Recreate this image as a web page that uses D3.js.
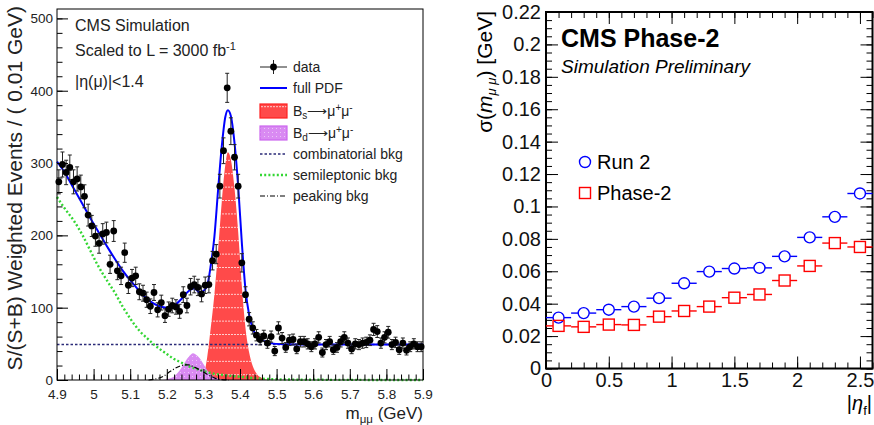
<!DOCTYPE html>
<html><head><meta charset="utf-8">
<script src="https://cdn.jsdelivr.net/npm/d3@7"></script>
<style>
body{margin:0;background:#fff;}
svg{display:block;font-family:"Liberation Sans",Arial,Helvetica,sans-serif;}
</style></head><body>
<svg id="c" width="874" height="425"></svg>
<script>
// ---------------- LEFT PANEL DATA ----------------
const massBins = [4.905,4.915,4.925,4.935,4.945,4.955,4.965,4.975,4.985,4.995,
5.005,5.015,5.025,5.035,5.045,5.055,5.065,5.075,5.085,5.095,
5.105,5.115,5.125,5.135,5.145,5.155,5.165,5.175,5.185,5.195,
5.205,5.215,5.225,5.235,5.245,5.255,5.265,5.275,5.285,5.295,
5.305,5.315,5.325,5.335,5.345,5.355,5.365,5.375,5.385,5.395,
5.405,5.415,5.425,5.435,5.445,5.455,5.465,5.475,5.485,5.495,
5.505,5.515,5.525,5.535,5.545,5.555,5.565,5.575,5.585,5.595,
5.605,5.615,5.625,5.635,5.645,5.655,5.665,5.675,5.685,5.695,
5.705,5.715,5.725,5.735,5.745,5.755,5.765,5.775,5.785,5.795,
5.805,5.815,5.825,5.835,5.845,5.855,5.865,5.875,5.885,5.895];
const dataValues = [274,298,287,294,274,278,267,254,228,213,
199,189,202,204,160,206,151,144,176,131,
141,144,122,120,111,102,121,97,107,89,
98,103,101,95,118,103,129,132,128,119,
131,132,165,174,268,317,404,344,308,268,
162,118,84,72,62,56,61,51,60,40,
72,58,45,55,56,43,53,53,50,46,
50,59,38,49,53,42,45,53,59,51,
43,50,49,51,52,55,70,67,51,59,
66,49,52,42,51,41,46,50,46,46];
const dataErrors = [16.6,17.3,16.9,17.1,16.6,16.7,16.3,15.9,15.1,14.6,
14.1,13.7,14.2,14.3,12.6,14.4,12.3,12.0,13.3,11.4,
11.9,12.0,11.0,11.0,10.5,10.1,11.0,9.8,10.3,9.4,
9.9,10.1,10.0,9.7,10.9,10.1,11.4,11.5,11.3,10.9,
11.4,11.5,12.8,13.2,16.4,17.8,20.1,18.5,17.5,16.4,
12.7,10.9,9.2,8.5,7.9,7.5,7.8,7.1,7.7,6.3,
8.5,7.6,6.7,7.4,7.5,6.6,7.3,7.3,7.1,6.8,
7.1,7.7,6.2,7.0,7.3,6.5,6.7,7.3,7.7,7.1,
6.6,7.1,7.0,7.1,7.2,7.4,8.4,8.2,7.1,7.7,
8.1,7.0,7.2,6.5,7.1,6.4,6.8,7.1,6.8,6.8];

const pdfX = [4.90,4.92,4.94,4.96,4.98,5.00,5.02,5.04,5.06,5.08,5.10,5.12,5.14,5.16,5.18,5.20,5.22,5.24,5.26,5.275,5.29,5.30,5.31,5.32,5.33,5.34,5.35,5.36,5.367,5.375,5.385,5.395,5.405,5.415,5.425,5.435,5.445,5.46,5.48,5.52,5.60,5.90];
const pdfY = [302,288,270,252,234,216,199,182,166,151,138,126,115,107,102,100,103,112,123,127,121,123,130,158,198,262,322,364,373,365,328,268,190,125,90,71,61,55,51,49.5,49,49];

const bsX = [5.27,5.28,5.29,5.30,5.31,5.32,5.33,5.34,5.35,5.36,5.367,5.375,5.385,5.395,5.405,5.415,5.425,5.435,5.445,5.455,5.465,5.48];
const bsY = [0,1,3,6,30,72,118,178,245,298,315,305,265,205,130,72,38,19,9,4,1.5,0];

const bdX = [5.19,5.20,5.21,5.22,5.23,5.24,5.25,5.26,5.272,5.28,5.29,5.30,5.31,5.32,5.33,5.34,5.35,5.36];
const bdY = [0,1,2.5,5,10,17,25,32,37,35,30,22,14,8,4,2,0.5,0];

const combX = [4.90,5.90];
const combY = [49,49];

const semiX = [4.90,4.92,4.945,4.97,4.99,5.01,5.036,5.06,5.08,5.10,5.127,5.15,5.163,5.18,5.20,5.22,5.236,5.25,5.27,5.29,5.31,5.33,5.345,5.37,5.40,5.44,5.50,5.60,5.90];
const semiY = [253,238,221,200,180,160,138,119,101,85,67,56,50,43,36,29,25,21.5,17,14,11,8.5,7.5,6,4.5,2.5,1,0.3,0];

const peakX = [5.15,5.17,5.19,5.21,5.23,5.25,5.26,5.27,5.29,5.31,5.33,5.35,5.37];
const peakY = [0,1.5,5,12,18,21,21,19,14,8,3,0.5,0];

const massTicks = [4.9,5.0,5.1,5.2,5.3,5.4,5.5,5.6,5.7,5.8,5.9];
const massTickLabels = ["4.9","5","5.1","5.2","5.3","5.4","5.5","5.6","5.7","5.8","5.9"];
const eventTicks = [0,100,200,300,400,500];

// ---------------- RIGHT PANEL DATA ----------------
const etaBins = [0.1,0.3,0.5,0.7,0.9,1.1,1.3,1.5,1.7,1.9,2.1,2.3,2.5];
const etaHalfWidth = 0.1;
const run2Sigma = [0.0314,0.0342,0.0363,0.0382,0.0434,0.0526,0.0598,0.0617,0.0621,0.0692,0.0809,0.0936,0.108];
const phase2Sigma = [0.0263,0.0257,0.0271,0.0269,0.0320,0.0355,0.0382,0.0437,0.0457,0.0543,0.0633,0.0774,0.0750];
const etaTicks = [0,0.5,1,1.5,2,2.5];
const etaTickLabels = ["0","0.5","1","1.5","2","2.5"];
const sigmaTicks = [0,0.02,0.04,0.06,0.08,0.1,0.12,0.14,0.16,0.18,0.2,0.22];
const sigmaTickLabels = ["0","0.02","0.04","0.06","0.08","0.1","0.12","0.14","0.16","0.18","0.2","0.22"];

// ---------------- DRAW ----------------
const svg = d3.select("#c");
svg.append("rect").attr("width",874).attr("height",425).attr("fill","#fff");
const defs = svg.append("defs");
const pr = defs.append("pattern").attr("id","pRed").attr("width",6).attr("height",13.4)
  .attr("patternUnits","userSpaceOnUse");
pr.append("rect").attr("width",6).attr("height",13.4).attr("fill","#ff4a4a");
pr.append("line").attr("x1",0).attr("x2",6).attr("y1",12.9).attr("y2",12.9)
  .attr("stroke","#fff").attr("stroke-opacity",0.75).attr("stroke-width",1).attr("stroke-dasharray","2,1");
const pp = defs.append("pattern").attr("id","pPur").attr("width",4).attr("height",4)
  .attr("patternUnits","userSpaceOnUse");
pp.append("rect").attr("width",4).attr("height",4).attr("fill","#d98af2");
pp.append("rect").attr("width",1).attr("height",1).attr("fill","#ecc6f8");

// LEFT
const xL = d3.scaleLinear().domain([4.9,5.9]).range([57,423]);
const yL = d3.scaleLinear().domain([0,513]).range([380,9]);
const gL = svg.append("g");

const areaL = (xs,ys)=> d3.area().x((d,i)=>xL(xs[i])).y0(yL(0)).y1((d,i)=>yL(ys[i])).curve(d3.curveMonotoneX)(xs);
const lineL = (xs,ys)=> d3.line().x((d,i)=>xL(xs[i])).y((d,i)=>yL(ys[i])).curve(d3.curveMonotoneX)(xs);

gL.append("path").attr("d",areaL(bsX,bsY)).attr("fill","url(#pRed)");
gL.append("path").attr("d",areaL(bdX,bdY)).attr("fill","url(#pPur)");
gL.append("path").attr("d",lineL(combX,combY)).attr("fill","none").attr("stroke","#2b2b78").attr("stroke-width",1.6).attr("stroke-dasharray","2.5,2");
gL.append("path").attr("d",lineL(semiX,semiY)).attr("fill","none").attr("stroke","#33d633").attr("stroke-width",2.4).attr("stroke-dasharray","2,2.2");
gL.append("path").attr("d",lineL(peakX,peakY)).attr("fill","none").attr("stroke","#000").attr("stroke-width",1.2).attr("stroke-dasharray","5,2,1,2");
gL.append("path").attr("d",lineL(pdfX,pdfY)).attr("fill","none").attr("stroke","#0000ff").attr("stroke-width",2);

// data points
const pts = gL.append("g");
massBins.forEach((m,i)=>{
  const x = xL(m), y = yL(dataValues[i]);
  const yt = yL(dataValues[i]+dataErrors[i]), yb = yL(dataValues[i]-dataErrors[i]);
  pts.append("line").attr("x1",x).attr("x2",x).attr("y1",yt).attr("y2",yb).attr("stroke","#222").attr("stroke-width",1);
  pts.append("line").attr("x1",x-2).attr("x2",x+2).attr("y1",yt).attr("y2",yt).attr("stroke","#222").attr("stroke-width",1);
  pts.append("line").attr("x1",x-2).attr("x2",x+2).attr("y1",yb).attr("y2",yb).attr("stroke","#222").attr("stroke-width",1);
  pts.append("circle").attr("cx",x).attr("cy",y).attr("r",3.4).attr("fill","#000");
});

// axes left
gL.append("g").attr("transform","translate(57,0)")
  .call(d3.axisLeft(yL).tickValues(eventTicks).tickSize(-11).tickPadding(4).tickFormat(d3.format("d")));
gL.append("g").attr("transform","translate(57,0)")
  .call(d3.axisLeft(yL).tickValues(d3.range(0,513,20)).tickSize(-5.5).tickFormat(""));
gL.append("g").attr("transform","translate(0,380)")
  .call(d3.axisBottom(xL).tickValues(massTicks).tickSize(-11).tickPadding(9).tickFormat((d,i)=>massTickLabels[i]));
gL.append("g").attr("transform","translate(0,380)")
  .call(d3.axisBottom(xL).tickValues(d3.range(4.9,5.9001,0.02)).tickSize(-5.5).tickFormat(""));
gL.selectAll(".domain").remove();
gL.selectAll(".tick line").attr("stroke","#000");
gL.selectAll(".tick text").attr("font-size",13.5).attr("fill","#222").attr("font-family","Liberation Sans, Arial, sans-serif");
gL.append("rect").attr("x",57).attr("y",9).attr("width",366).attr("height",371).attr("fill","none").attr("stroke","#000").attr("stroke-width",1);

// left texts
gL.append("text").attr("x",75).attr("y",31).attr("font-size",16).attr("fill","#222").text("CMS Simulation");
const t2 = gL.append("text").attr("x",75).attr("y",56).attr("font-size",16).attr("fill","#222");
t2.append("tspan").text("Scaled to L = 3000 fb");
t2.append("tspan").attr("dy",-6).attr("font-size",11).text("-1");
gL.append("text").attr("x",75).attr("y",87).attr("font-size",16).attr("fill","#222").text("|\u03b7(\u03bc)|<1.4");

// y title
gL.append("text").attr("transform","translate(22,6) rotate(-90)").attr("text-anchor","end")
  .attr("font-size",21).attr("fill","#222").text("S/(S+B) Weighted Events / ( 0.01 GeV)");
// x title
const xt = gL.append("text").attr("x",423).attr("y",419).attr("text-anchor","end").attr("font-size",17).attr("fill","#222");
xt.append("tspan").text("m");
xt.append("tspan").attr("dy",4).attr("font-size",11.5).text("\u03bc\u03bc");
xt.append("tspan").attr("dy",-4).text(" (GeV)");

// legend left
const lg = gL.append("g");
const lx0 = 260, lx1 = 287, ltx = 293;
const rows = [67,88,111,133,154,175,196];
const labels = ["data","full PDF",null,null,"combinatorial bkg","semileptonic bkg","peaking bkg"];
lg.append("line").attr("x1",lx0).attr("x2",lx1).attr("y1",rows[0]).attr("y2",rows[0]).attr("stroke","#222");
lg.append("line").attr("x1",273.5).attr("x2",273.5).attr("y1",rows[0]-7).attr("y2",rows[0]+7).attr("stroke","#222");
lg.append("circle").attr("cx",273.5).attr("cy",rows[0]).attr("r",3.4).attr("fill","#000");
lg.append("line").attr("x1",lx0).attr("x2",lx1).attr("y1",rows[1]).attr("y2",rows[1]).attr("stroke","#0000ff").attr("stroke-width",2);
lg.append("rect").attr("x",lx0).attr("y",rows[2]-7).attr("width",27).attr("height",14).attr("fill","url(#pRed)").attr("stroke","#ff2020").attr("stroke-width",1.2);
lg.append("rect").attr("x",lx0).attr("y",rows[3]-7).attr("width",27).attr("height",14).attr("fill","url(#pPur)").attr("stroke","#cc66ee").attr("stroke-width",1.2);
lg.append("line").attr("x1",lx0).attr("x2",lx1).attr("y1",rows[4]).attr("y2",rows[4]).attr("stroke","#2b2b78").attr("stroke-width",1.6).attr("stroke-dasharray","2.5,2");
lg.append("line").attr("x1",lx0).attr("x2",lx1).attr("y1",rows[5]).attr("y2",rows[5]).attr("stroke","#33d633").attr("stroke-width",2.4).attr("stroke-dasharray","2,2.2");
lg.append("line").attr("x1",lx0).attr("x2",lx1).attr("y1",rows[6]).attr("y2",rows[6]).attr("stroke","#000").attr("stroke-width",1.2).attr("stroke-dasharray","5,2,1,2");
labels.forEach((l,i)=>{ if(l) lg.append("text").attr("x",ltx).attr("y",rows[i]+5).attr("font-size",14).attr("fill","#222").text(l); });
function decayLabel(row, sub){
  const t = lg.append("text").attr("x",ltx).attr("y",row+5).attr("font-size",14).attr("fill","#222");
  t.append("tspan").text("B");
  t.append("tspan").attr("dy",3).attr("font-size",10).text(sub);
  t.append("tspan").attr("dy",-3).text("\u27f6\u03bc");
  t.append("tspan").attr("dy",-5).attr("font-size",10).text("+");
  t.append("tspan").attr("dy",5).text("\u03bc");
  t.append("tspan").attr("dy",-5).attr("font-size",10).text("-");
}
decayLabel(rows[2],"s");
decayLabel(rows[3],"d");

// ---------------- RIGHT ----------------
const xR = d3.scaleLinear().domain([0,2.6]).range([546,872.5]);
const yR = d3.scaleLinear().domain([0,0.22]).range([368.5,12]);
const gR = svg.append("g");

gR.append("g").attr("transform","translate(546,0)")
  .call(d3.axisLeft(yR).tickValues(sigmaTicks).tickSize(-12).tickPadding(5).tickFormat((d,i)=>sigmaTickLabels[i]));
gR.append("g").attr("transform","translate(546,0)")
  .call(d3.axisLeft(yR).tickValues(d3.range(0,0.2201,0.005)).tickSize(-6).tickFormat(""));
gR.append("g").attr("transform","translate(872.5,0)")
  .call(d3.axisRight(yR).tickValues(sigmaTicks).tickSize(-12).tickFormat(""));
gR.append("g").attr("transform","translate(872.5,0)")
  .call(d3.axisRight(yR).tickValues(d3.range(0,0.2201,0.005)).tickSize(-6).tickFormat(""));
gR.append("g").attr("transform","translate(0,368.5)")
  .call(d3.axisBottom(xR).tickValues(etaTicks).tickSize(-12).tickPadding(4).tickFormat((d,i)=>etaTickLabels[i]));
gR.append("g").attr("transform","translate(0,368.5)")
  .call(d3.axisBottom(xR).tickValues(d3.range(0,2.601,0.1)).tickSize(-6).tickFormat(""));
gR.append("g").attr("transform","translate(0,12)")
  .call(d3.axisTop(xR).tickValues(etaTicks).tickSize(-12).tickFormat(""));
gR.append("g").attr("transform","translate(0,12)")
  .call(d3.axisTop(xR).tickValues(d3.range(0,2.601,0.1)).tickSize(-6).tickFormat(""));
gR.selectAll(".domain").remove();
gR.selectAll(".tick line").attr("stroke","#000").attr("stroke-width",1);
gR.selectAll(".tick text").attr("font-size",20).attr("fill","#111").attr("font-family","Liberation Sans, Arial, sans-serif");
gR.append("rect").attr("x",546).attr("y",12).attr("width",326.5).attr("height",356.5).attr("fill","none").attr("stroke","#000").attr("stroke-width",2);

function series(vals,color,isCircle){
  const g = gR.append("g");
  const s = 5.5;
  etaBins.forEach((c,i)=>{
    const x = xR(c), y = yR(vals[i]);
    g.append("line").attr("x1",xR(c-etaHalfWidth)).attr("x2",x-s).attr("y1",y).attr("y2",y).attr("stroke",color).attr("stroke-width",1.4);
    g.append("line").attr("x1",x+s).attr("x2",Math.min(xR(c+etaHalfWidth),872.5)).attr("y1",y).attr("y2",y).attr("stroke",color).attr("stroke-width",1.4);
    if(isCircle) g.append("circle").attr("cx",x).attr("cy",y).attr("r",s).attr("fill","none").attr("stroke",color).attr("stroke-width",1.4);
    else g.append("rect").attr("x",x-s).attr("y",y-s).attr("width",2*s).attr("height",2*s).attr("fill","none").attr("stroke",color).attr("stroke-width",1.4);
  });
}
series(run2Sigma,"#0000ff",true);
series(phase2Sigma,"#ff0000",false);

gR.append("text").attr("x",561).attr("y",47).attr("font-size",25).attr("font-weight","bold").attr("fill","#000").text("CMS Phase-2");
gR.append("text").attr("x",561).attr("y",73).attr("font-size",19).attr("font-style","italic").attr("fill","#000").text("Simulation Preliminary");

gR.append("circle").attr("cx",585).attr("cy",162).attr("r",5.5).attr("fill","none").attr("stroke","#0000ff").attr("stroke-width",1.4);
gR.append("text").attr("x",597).attr("y",169).attr("font-size",20).attr("fill","#000").text("Run 2");
gR.append("rect").attr("x",579.5).attr("y",187.5).attr("width",11).attr("height",11).attr("fill","none").attr("stroke","#ff0000").attr("stroke-width",1.4);
gR.append("text").attr("x",597).attr("y",200).attr("font-size",20).attr("fill","#000").text("Phase-2");

const ryt = gR.append("text").attr("transform","translate(492,11) rotate(-90)").attr("text-anchor","end").attr("font-size",21).attr("fill","#000");
ryt.append("tspan").text("\u03c3(");
ryt.append("tspan").attr("font-style","italic").text("m");
ryt.append("tspan").attr("dy",4).attr("font-size",13).attr("font-style","italic").text("\u03bc \u03bc");
ryt.append("tspan").attr("dy",-4).text(") [GeV]");
const rxt = gR.append("text").attr("x",872).attr("y",410).attr("text-anchor","end").attr("font-size",20).attr("fill","#000");
rxt.append("tspan").text("|");
rxt.append("tspan").attr("font-style","italic").text("\u03b7");
rxt.append("tspan").attr("dy",5).attr("font-size",13).text("f");
rxt.append("tspan").attr("dy",-5).text("|");
</script>
</body></html>
